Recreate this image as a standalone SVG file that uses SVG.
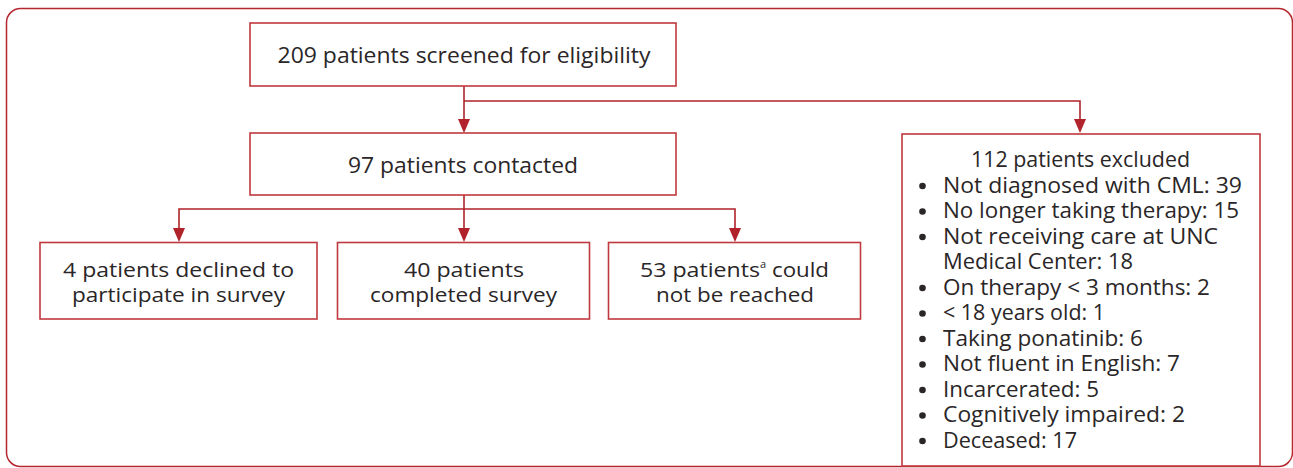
<svg xmlns="http://www.w3.org/2000/svg" width="1293" height="468" viewBox="0 0 1293 468">
<defs>
<style>
.frame{fill:none;stroke:#b5272d;stroke-width:1.5}
.box{fill:#fff;stroke:#c0393f;stroke-width:1.6}
.conn{fill:none;stroke:#b0232a;stroke-width:1.6}
.head{fill:#b0232a}
.dot{fill:#2a2627}
.t{font-family:"Open Sans","Liberation Sans",sans-serif;font-size:20px;fill:#2a2627;text-anchor:middle}
.big{font-size:21px}
.s{font-family:"Open Sans","Liberation Sans",sans-serif;font-size:20px;fill:#2a2627}
.sup{font-size:11px}
.l{font-family:"Open Sans","Liberation Sans",sans-serif;font-size:21px;fill:#2a2627}
.c{text-anchor:middle}
</style>
</defs>
<rect class="frame" x="6.5" y="8.5" width="1286" height="458" rx="14"/>
<g id="connectors">
<path class="conn" d="M464,86 V119"/>
<path class="conn" d="M464,101 H1080 V119"/>
<path class="conn" d="M464,195 V228"/>
<path class="conn" d="M179,228 V209 H735 V228"/>
<path class="head" d="M458,119 L470,119 L464,133 Z"/>
<path class="head" d="M1074,119 L1086,119 L1080,133 Z"/>
<path class="head" d="M173,228 L185,228 L179,242 Z"/>
<path class="head" d="M458,228 L470,228 L464,242 Z"/>
<path class="head" d="M729,228 L741,228 L735,242 Z"/>
</g>
<g id="screened">
<rect class="box" x="250" y="23" width="426" height="63"/>
<text class="t big" x="464" y="63" textLength="373" lengthAdjust="spacingAndGlyphs">209 patients screened for eligibility</text>
</g>
<g id="contacted">
<rect class="box" x="250" y="133" width="426" height="62"/>
<text class="t big" x="463" y="173" textLength="230" lengthAdjust="spacingAndGlyphs">97 patients contacted</text>
</g>
<g id="declined">
<rect class="box" x="40" y="242.5" width="277" height="76.5"/>
<text class="t" x="178.5" y="277" textLength="231" lengthAdjust="spacingAndGlyphs">4 patients declined to</text>
<text class="t" x="178.5" y="302" textLength="213" lengthAdjust="spacingAndGlyphs">participate in survey</text>
</g>
<g id="completed">
<rect class="box" x="337.5" y="242.5" width="252" height="76.5"/>
<text class="t" x="464" y="277" textLength="120" lengthAdjust="spacingAndGlyphs">40 patients</text>
<text class="t" x="463.5" y="302" textLength="187" lengthAdjust="spacingAndGlyphs">completed survey</text>
</g>
<g id="notreached">
<rect class="box" x="608.5" y="242.5" width="252" height="76.5"/>
<text class="s" x="640" y="277" textLength="120" lengthAdjust="spacingAndGlyphs">53 patients</text>
<text class="s sup" x="760" y="268">a</text>
<text class="s" x="772" y="277" textLength="57" lengthAdjust="spacingAndGlyphs">could</text>
<text class="t" x="735" y="302" textLength="158" lengthAdjust="spacingAndGlyphs">not be reached</text>
</g>
<g id="excluded">
<rect class="box" x="902" y="134" width="358" height="332"/>
<text class="l c" x="1080.5" y="167" textLength="219" lengthAdjust="spacingAndGlyphs">112 patients excluded</text>
<g class="dot">
<circle cx="922.5" cy="186" r="3.3"/>
<circle cx="922.5" cy="211.5" r="3.3"/>
<circle cx="922.5" cy="237" r="3.3"/>
<circle cx="922.5" cy="288" r="3.3"/>
<circle cx="922.5" cy="313.5" r="3.3"/>
<circle cx="922.5" cy="339" r="3.3"/>
<circle cx="922.5" cy="364.5" r="3.3"/>
<circle cx="922.5" cy="390" r="3.3"/>
<circle cx="922.5" cy="415.5" r="3.3"/>
<circle cx="922.5" cy="441" r="3.3"/>
</g>
<text class="l" x="943" y="192.5" textLength="299" lengthAdjust="spacingAndGlyphs">Not diagnosed with CML: 39</text>
<text class="l" x="943" y="218" textLength="296" lengthAdjust="spacingAndGlyphs">No longer taking therapy: 15</text>
<text class="l" x="943" y="243.5" textLength="275" lengthAdjust="spacingAndGlyphs">Not receiving care at UNC</text>
<text class="l" x="943" y="269" textLength="190" lengthAdjust="spacingAndGlyphs">Medical Center: 18</text>
<text class="l" x="943" y="294.5" textLength="267" lengthAdjust="spacingAndGlyphs">On therapy &lt; 3 months: 2</text>
<text class="l" x="943" y="320" textLength="162" lengthAdjust="spacingAndGlyphs">&lt; 18 years old: 1</text>
<text class="l" x="943" y="345.5" textLength="200" lengthAdjust="spacingAndGlyphs">Taking ponatinib: 6</text>
<text class="l" x="943" y="371" textLength="237" lengthAdjust="spacingAndGlyphs">Not fluent in English: 7</text>
<text class="l" x="943" y="396.5" textLength="156" lengthAdjust="spacingAndGlyphs">Incarcerated: 5</text>
<text class="l" x="943" y="422" textLength="242" lengthAdjust="spacingAndGlyphs">Cognitively impaired: 2</text>
<text class="l" x="943" y="447.5" textLength="134" lengthAdjust="spacingAndGlyphs">Deceased: 17</text>
</g>
</svg>
